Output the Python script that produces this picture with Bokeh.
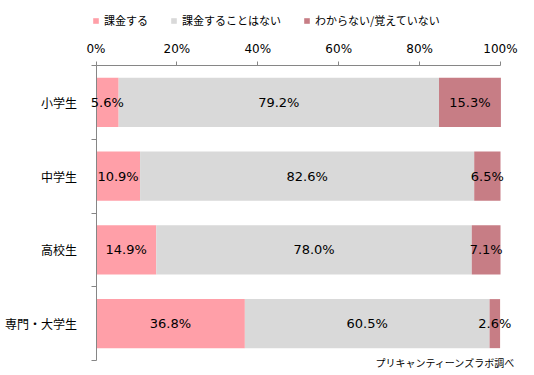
from bokeh.plotting import figure
from bokeh.models import (ColumnDataSource, Range1d, FixedTicker, Legend, LegendItem,
                          LabelSet, Label)
from bokeh.core.properties import value
from bokeh.embed import file_html
from bokeh.resources import INLINE

groups = ["小学生", "中学生", "高校生", "専門・大学生"]
series_names = ["課金する", "課金することはない", "わからない/覚えていない"]
pay = [5.6, 10.9, 14.9, 36.8]
no_pay = [79.2, 82.6, 78.0, 60.5]
unknown = [15.3, 6.5, 7.1, 2.6]
x_ticks = [0, 20, 40, 60, 80, 100]
x_tick_labels = ["0%", "20%", "40%", "60%", "80%", "100%"]
colors = ["#FF9FA8", "#D9D9D9", "#C77D85"]
source_note = "プリキャンティーンズラボ調べ"

n = len(groups)
ypos = [n - i - 0.5 for i in range(n)]
AXIS_COLOR = "#868686"
JP = "Noto Sans CJK JP"

W, H = 534, 375
# pixel layout of the plotting area inside the figure
PX_L, PX_R, PX_T, PX_B = 95.5, 500.0, 65.0, 360.0
sx = (PX_R - PX_L) / 100.0
sy = (PX_B - PX_T) / n
x_range = Range1d(-PX_L / sx, 100 + (W - PX_R) / sx)
y_range = Range1d(-(H - PX_B) / sy, n + PX_T / sy)

p = figure(width=W, height=H, x_range=x_range, y_range=y_range,
           x_axis_location="above", output_backend="svg", toolbar_location=None,
           min_border=0, min_border_left=0, min_border_right=0,
           min_border_top=0, min_border_bottom=0)
p.outline_line_color = None
p.xgrid.visible = False
p.ygrid.visible = False

series = [pay, no_pay, unknown]
left = [0.0] * n
renderers = []
for name, vals, col in zip(series_names, series, colors):
    right = [l + v for l, v in zip(left, vals)]
    src = ColumnDataSource(dict(
        y=ypos, left=left, right=right,
        mid=[(l + r) / 2 for l, r in zip(left, right)],
        lbl=["{:.1f}%".format(v) for v in vals]))
    r = p.hbar(y="y", left="left", right="right", height=0.665, source=src,
               fill_color=col, line_color=None)
    renderers.append(r)
    p.add_layout(LabelSet(x="mid", y="y", text="lbl", source=src, text_align="center",
                          text_baseline="middle", text_font=value("DejaVu Sans"),
                          text_font_size=value("13px"), text_color=value("#000000")))
    left = right

xa = p.xaxis[0]
xa.fixed_location = n
xa.bounds = (0, 100)
xa.ticker = FixedTicker(ticks=x_ticks)
xa.major_label_overrides = dict(zip(x_ticks, x_tick_labels))
xa.axis_line_color = AXIS_COLOR
xa.major_tick_line_color = AXIS_COLOR
xa.minor_tick_line_color = None
xa.major_tick_in = 0
xa.major_tick_out = 4
xa.major_label_standoff = 6
xa.major_label_text_font = "DejaVu Sans"
xa.major_label_text_font_size = "12px"
xa.major_label_text_color = "#000000"

ya = p.yaxis[0]
ya.fixed_location = 0
ya.bounds = (0, n)
ya.ticker = FixedTicker(ticks=ypos, minor_ticks=list(range(n + 1)))
ya.major_label_overrides = dict(zip(ypos, groups))
ya.axis_line_color = AXIS_COLOR
ya.major_tick_line_color = None
ya.major_tick_in = 0
ya.major_tick_out = 0
ya.minor_tick_line_color = AXIS_COLOR
ya.minor_tick_in = 0
ya.minor_tick_out = 5
ya.major_label_standoff = 14
ya.major_label_text_font = JP
ya.major_label_text_font_size = "12px"
ya.major_label_text_color = "#000000"

legend = Legend(items=[LegendItem(label=nm, renderers=[r]) for nm, r in zip(series_names, renderers)],
                orientation="horizontal", location=(92, 347), glyph_width=7, glyph_height=7,
                label_standoff=5, spacing=22, padding=0, margin=0, border_line_color=None,
                background_fill_alpha=0, label_text_font=JP, label_text_font_size="11px",
                label_height=14, label_text_color="#000000")
p.add_layout(legend, "center")

p.add_layout(Label(x=103.7, y=-0.027, text=source_note, text_align="right",
                   text_baseline="middle", text_font=JP, text_font_size="10px",
                   text_color="#000000"))

open("out.html", "w").write(file_html(p, INLINE))
